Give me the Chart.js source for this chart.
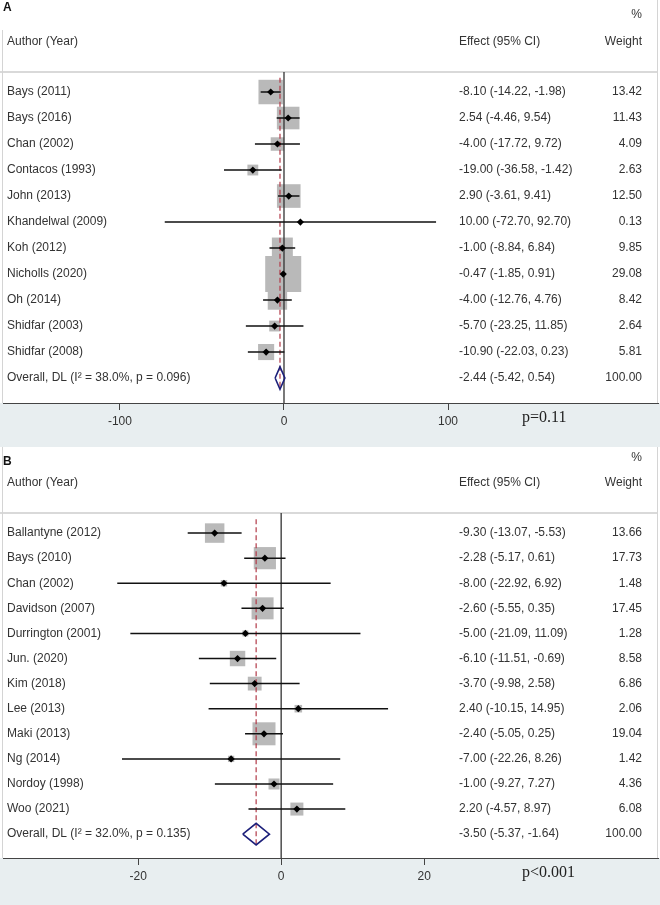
<!DOCTYPE html>
<html>
<head>
  <meta charset="UTF-8">
  <title>Forest plots</title>
  <script src="https://cdn.jsdelivr.net/npm/chart.js"></script>
  <style>
    body { margin: 0; background: #fff; }
    canvas { display: block; }
  </style>
</head>
<body>

<canvas id="plotA" width="660" height="447"></canvas>
<canvas id="plotB" width="660" height="458"></canvas>

<script>
  // ---- panel A data
  const authorsA = ['Bays (2011)', 'Bays (2016)', 'Chan (2002)', 'Contacos (1993)', 'John (2013)',
    'Khandelwal (2009)', 'Koh (2012)', 'Nicholls (2020)', 'Oh (2014)', 'Shidfar (2003)', 'Shidfar (2008)'];
  const effectA = [-8.10, 2.54, -4.00, -19.00, 2.90, 10.00, -1.00, -0.47, -4.00, -5.70, -10.90];
  const lowA    = [-14.22, -4.46, -17.72, -36.58, -3.61, -72.70, -8.84, -1.85, -12.76, -23.25, -22.03];
  const highA   = [-1.98, 9.54, 9.72, -1.42, 9.41, 92.70, 6.84, 0.91, 4.76, 11.85, 0.23];
  const weightA = [13.42, 11.43, 4.09, 2.63, 12.50, 0.13, 9.85, 29.08, 8.42, 2.64, 5.81];
  const overallA = [-2.44, -5.42, 0.54];   // estimate, low, high
  const overallLabelA = 'Overall, DL (I\u00B2 = 38.0%, p = 0.096)';
  const ticksA = [-100, 0, 100];
  const pTextA = 'p=0.11';

  // ---- panel B data
  const authorsB = ['Ballantyne (2012)', 'Bays (2010)', 'Chan (2002)', 'Davidson (2007)', 'Durrington (2001)',
    'Jun. (2020)', 'Kim (2018)', 'Lee (2013)', 'Maki (2013)', 'Ng (2014)', 'Nordoy (1998)', 'Woo (2021)'];
  const effectB = [-9.30, -2.28, -8.00, -2.60, -5.00, -6.10, -3.70, 2.40, -2.40, -7.00, -1.00, 2.20];
  const lowB    = [-13.07, -5.17, -22.92, -5.55, -21.09, -11.51, -9.98, -10.15, -5.05, -22.26, -9.27, -4.57];
  const highB   = [-5.53, 0.61, 6.92, 0.35, 11.09, -0.69, 2.58, 14.95, 0.25, 8.26, 7.27, 8.97];
  const weightB = [13.66, 17.73, 1.48, 17.45, 1.28, 8.58, 6.86, 2.06, 19.04, 1.42, 4.36, 6.08];
  const overallB = [-3.50, -5.37, -1.64];
  const overallLabelB = 'Overall, DL (I\u00B2 = 32.0%, p = 0.135)';
  const ticksB = [-20, 0, 20];
  const pTextB = 'p<0.001';

  const FONT = "'Liberation Sans', Arial, sans-serif";
  const TEXT = '#333';

  function makePlot(id, d) {
    const n = d.authors.length;
    const h = 0.43; // half height of the diamond, in rows

    const boxes = d.effect.map((e, i) => ({x: e, y: i}));
    const dots = d.effect.map((e, i) => ({x: e, y: i}));
    const ci = [];
    d.effect.forEach((e, i) => {
      ci.push({x: d.low[i], y: i}, {x: d.high[i], y: i}, {x: null, y: null});
    });
    const o = d.overall;
    const diamond = [{x: o[1], y: n}, {x: o[0], y: n - h}, {x: o[2], y: n}, {x: o[0], y: n + h}, {x: o[1], y: n}];

    const panel = {
      id: 'panel',
      beforeDraw(chart) {
        const c = chart.ctx, a = chart.chartArea;
        c.save();
        c.fillStyle = '#fff';
        c.fillRect(0, 0, chart.width, chart.height);
        c.fillStyle = '#e8eef0';
        c.fillRect(0, a.bottom, chart.width, chart.height - a.bottom);
        c.fillStyle = '#d9d9d9';
        c.fillRect(0, a.top - 1, a.right, 2);
        c.strokeStyle = '#d4d4d4';
        c.lineWidth = 1;
        c.beginPath();
        c.moveTo(2.5, d.leftTop); c.lineTo(2.5, a.bottom);
        c.moveTo(657.5, 0); c.lineTo(657.5, a.bottom);
        c.stroke();
        c.restore();
      },
      afterDraw(chart) {
        const c = chart.ctx, y = chart.scales.y, a = chart.chartArea;
        c.save();
        c.textBaseline = 'middle';
        // panel letter
        c.fillStyle = '#111';
        c.font = 'bold 12px ' + FONT;
        c.textAlign = 'left';
        c.fillText(d.letter, 3, d.letterY);
        // headers
        c.fillStyle = TEXT;
        c.font = '12px ' + FONT;
        c.fillText('Author (Year)', 7, d.headY);
        c.fillText('Effect (95% CI)', 459, d.headY);
        c.textAlign = 'right';
        c.fillText('%', 642, d.pctY);
        c.fillText('Weight', 642, d.headY);
        // rows
        for (let i = 0; i <= n; i++) {
          const py = y.getPixelForValue(i);
          const lab = i < n ? d.authors[i] : d.overallLabel;
          const e = i < n ? [d.effect[i], d.low[i], d.high[i]] : d.overall;
          const w = i < n ? d.weight[i] : 100;
          c.textAlign = 'left';
          c.fillText(lab, 7, py);
          c.fillText(e[0].toFixed(2) + ' (' + e[1].toFixed(2) + ', ' + e[2].toFixed(2) + ')', 459, py);
          c.textAlign = 'right';
          c.fillText(w.toFixed(2), 642, py);
        }
        // p value
        c.textAlign = 'left';
        c.fillStyle = '#222';
        c.font = "16px 'Liberation Serif', 'Times New Roman', serif";
        c.fillText(d.pText, 522, a.bottom + 15);
        c.restore();
      }
    };

    return new Chart(document.getElementById(id), {
      type: 'scatter',
      data: {
        datasets: [
          { // weight boxes
            data: boxes,
            pointStyle: 'rect',
            pointRadius: d.weight.map(w => d.boxK * Math.sqrt(w) / Math.SQRT2),
            backgroundColor: '#b9b9b9',
            borderWidth: 0,
            order: 5
          },
          { // null line
            type: 'line',
            data: [{x: 0, y: d.ymin}, {x: 0, y: d.ymax}],
            borderColor: '#333', borderWidth: 1.3, pointRadius: 0, order: 4
          },
          { // overall dashed line
            type: 'line',
            data: [{x: o[0], y: -0.55}, {x: o[0], y: n + h}],
            borderColor: '#b23a48', borderWidth: 1.2, borderDash: [5, 3], pointRadius: 0, order: 3
          },
          { // confidence intervals
            type: 'line',
            data: ci,
            spanGaps: false,
            borderColor: '#111', borderWidth: 1.5, pointRadius: 0, order: 2
          },
          { // overall diamond
            type: 'line',
            data: diamond,
            borderColor: '#1c1f7a', borderWidth: 1.6, pointRadius: 0, fill: false, tension: 0, order: 2
          },
          { // point estimates
            data: dots,
            pointStyle: 'rectRot',
            pointRadius: 3.6,
            backgroundColor: '#000',
            borderWidth: 0,
            order: 1
          }
        ]
      },
      options: {
        responsive: false,
        animation: false,
        events: [],
        layout: { autoPadding: false, padding: { top: d.padTop, left: 3, right: 2, bottom: 0 } },
        plugins: { legend: { display: false }, tooltip: { enabled: false } },
        scales: {
          x: {
            type: 'linear',
            min: d.xmin, max: d.xmax,
            afterBuildTicks: ax => { ax.ticks = d.ticks.map(v => ({value: v})); },
            afterFit: ax => { ax.height = d.bottomH; },
            grid: { drawOnChartArea: false, drawTicks: true, tickLength: 7, color: '#444', lineWidth: 1 },
            border: { display: true, color: '#444', width: 1 },
            ticks: { color: TEXT, font: { family: FONT, size: 12 }, padding: 4, maxRotation: 0, autoSkip: false }
          },
          y: {
            type: 'linear',
            min: d.ymin, max: d.ymax,
            reverse: true,
            display: false
          }
        }
      },
      plugins: [panel]
    });
  }

  makePlot('plotA', {
    authors: authorsA, effect: effectA, low: lowA, high: highA, weight: weightA,
    overall: overallA, overallLabel: overallLabelA, ticks: ticksA, pText: pTextA,
    letter: 'A', letterY: 8, pctY: 15, headY: 42, leftTop: 30,
    padTop: 72, bottomH: 44, xmin: -171.3, xmax: 228.0, ymin: -0.77, ymax: 11.96, boxK: 6.68
  });

  makePlot('plotB', {
    authors: authorsB, effect: effectB, low: lowB, high: highB, weight: weightB,
    overall: overallB, overallLabel: overallLabelB, ticks: ticksB, pText: pTextB,
    letter: 'B', letterY: 15, pctY: 11, headY: 36, leftTop: 0,
    padTop: 66, bottomH: 47, xmin: -38.9, xmax: 52.7, ymin: -0.8, ymax: 12.95, boxK: 5.27
  });
</script>

</body>
</html>
